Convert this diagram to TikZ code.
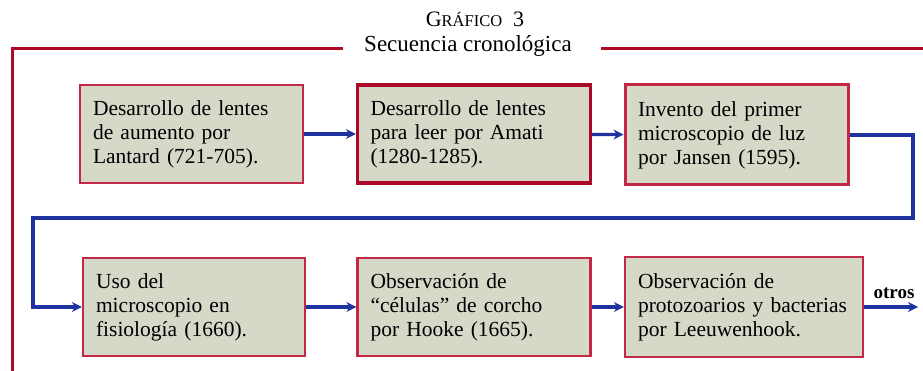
\documentclass[tikz,border=0pt]{standalone}
\usepackage{fontspec}
\setmainfont{Liberation Serif}
\usetikzlibrary{arrows.meta}
\definecolor{framered}{RGB}{170,10,40}
\definecolor{boxred}{RGB}{195,40,70}
\definecolor{boxfill}{RGB}{214,217,199}
\definecolor{flowblue}{RGB}{30,50,160}
\tikzset{
  x=1pt,y=-1pt,
  stepbox/.style={draw=boxred,line width=2.2pt,fill=boxfill,inner xsep=13pt,inner ysep=0pt,
    align=left,font=\fontsize{21.5}{24}\selectfont,anchor=center},
  flow/.style={draw=flowblue,line width=3.2pt,-{Stealth[length=10pt,width=10pt]}},
  frame/.style={draw=framered,line width=3pt},
}
\begin{document}
\begin{tikzpicture}
\useasboundingbox (0,0) rectangle (923,371);
% title
\node (t1) at (475,19) {\fontsize{22}{24}\selectfont G{\fontsize{16.5}{20}\selectfont RÁFICO}\ \ 3};
\node (t2) at (468,46) {\fontsize{23}{24}\selectfont Secuencia cronológica};
\coordinate (fa) at (12,371);
\coordinate (fb) at (12,49);
\coordinate (fc) at (343,49);
\coordinate (fd) at (601,49);
\coordinate (fe) at (923,49);
\draw[frame] (fa) -- (fb) -- (fc);
\draw[frame] (fd) -- (fe);
% boxes
\node[stepbox,text width=197pt,minimum height=98pt] (b1) at (191.5,134)
  {Desarrollo de lentes\\de aumento por\\Lantard (721-705).};
\node[stepbox,line width=3.2pt,draw=framered,text width=207pt,minimum height=98pt] (b2) at (474,134)
  {Desarrollo de lentes\\para leer por Amati\\(1280-1285).};
\node[stepbox,line width=3pt,text width=197pt,minimum height=100pt] (b3) at (736.5,135)
  {Invento del primer\\microscopio de luz\\por Jansen (1595).};
\node[stepbox,text width=196pt,minimum height=98pt] (b4) at (194,307)
  {Uso del\\microscopio en\\fisiología (1660).};
\node[stepbox,text width=207pt,minimum height=98pt] (b5) at (474,307)
  {Observación de\\“células” de corcho\\por Hooke (1665).};
\node[stepbox,text width=212pt,minimum height=100pt] (b6) at (744,307)
  {Observación de\\protozoarios y bacterias\\por Leeuwenhook.};
% connectors
\draw[flow] (b1) -- (b2);
\draw[flow] (b2) -- (b3);
\coordinate (r1) at (913,218);
\coordinate (l1) at (33,218);
\draw[flow] (b3.east) -| (r1) -- (l1) |- (b4.west);
\draw[flow] (b4) -- (b5);
\draw[flow] (b5) -- (b6);
\coordinate (out) at (918,307);
\draw[flow] (b6.east) -- (out);
\node[font=\fontsize{19}{20}\selectfont\bfseries,anchor=south,inner sep=1pt] (ot) at (894,300) {otros};
\end{tikzpicture}
\end{document}
